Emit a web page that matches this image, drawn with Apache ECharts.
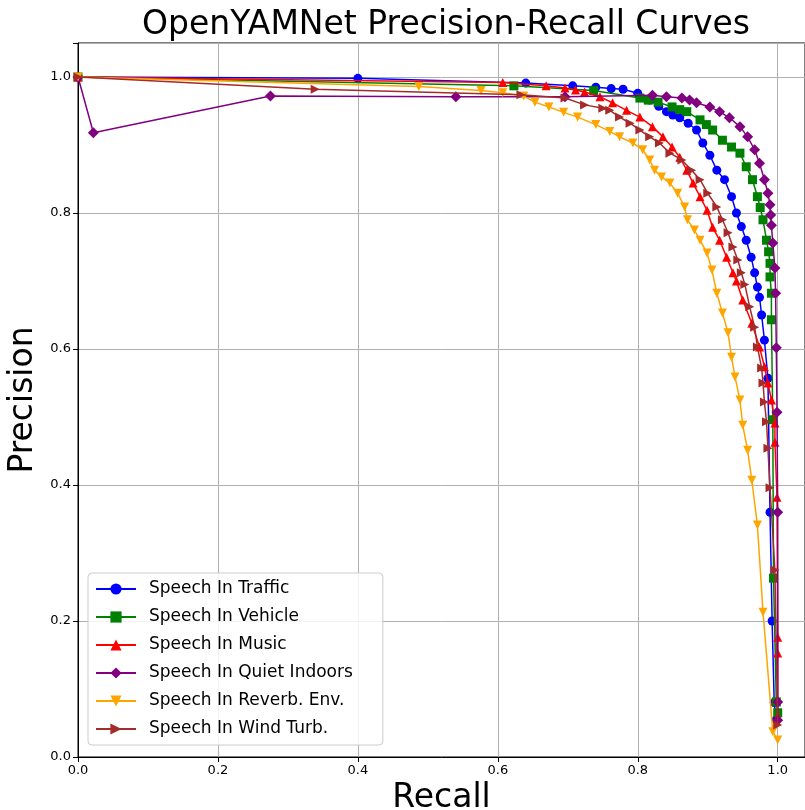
<!DOCTYPE html>
<html>
<head>
<meta charset="utf-8">
<script src="https://cdn.jsdelivr.net/npm/echarts@6/dist/echarts.min.js"></script>
<style>
  html, body { margin: 0; padding: 0; background: #fff; }
  #main { width: 805px; height: 810px; }
</style>
</head>
<body>
<div id="main"></div>
<script>
// 各条曲线的数据 (recall / precision)
const names = ["Speech In Traffic", "Speech In Vehicle", "Speech In Music",
  "Speech In Quiet Indoors", "Speech In Reverb. Env.", "Speech In Wind Turb."]
const colors = ["#0000ff", "#008000", "#ff0000", "#800080", "#ffa500", "#a52a2a"]

const trafficRecall = [0, 0.40, 0.64, 0.707, 0.74, 0.762, 0.779, 0.80, 0.817, 0.83, 0.841, 0.85, 0.86, 0.872, 0.884, 0.893, 0.903, 0.913, 0.924, 0.934, 0.941, 0.948, 0.955, 0.962, 0.967, 0.971, 0.974, 0.977, 0.981, 0.986, 0.989, 0.992, 0.995, 0.998]
const trafficPrecision = [1.0, 0.998, 0.991, 0.987, 0.985, 0.983, 0.982, 0.976, 0.966, 0.957, 0.949, 0.944, 0.94, 0.932, 0.922, 0.903, 0.885, 0.863, 0.849, 0.824, 0.80, 0.78, 0.76, 0.735, 0.712, 0.691, 0.676, 0.65, 0.613, 0.557, 0.36, 0.20, 0.08, 0.055]

const vehicleRecall = [0, 0.623, 0.737, 0.803, 0.815, 0.829, 0.849, 0.86, 0.87, 0.889, 0.898, 0.907, 0.921, 0.934, 0.946, 0.955, 0.964, 0.971, 0.975, 0.979, 0.984, 0.987, 0.989, 0.989, 0.991, 0.991, 0.993, 0.994, 0.998, 1.0]
const vehiclePrecision = [1.0, 0.987, 0.98, 0.969, 0.966, 0.963, 0.956, 0.952, 0.949, 0.937, 0.93, 0.922, 0.907, 0.897, 0.888, 0.868, 0.849, 0.824, 0.808, 0.79, 0.76, 0.743, 0.726, 0.706, 0.682, 0.643, 0.496, 0.263, 0.081, 0.065]

const musicRecall = [0, 0.607, 0.669, 0.696, 0.711, 0.724, 0.746, 0.764, 0.784, 0.803, 0.821, 0.836, 0.849, 0.86, 0.87, 0.879, 0.889, 0.899, 0.907, 0.917, 0.927, 0.936, 0.941, 0.95, 0.963, 0.974, 0.981, 0.986, 0.991, 0.996, 0.996, 0.999, 1.0, 1.0, 1.0]
const musicPrecision = [1.0, 0.992, 0.987, 0.984, 0.981, 0.978, 0.971, 0.962, 0.951, 0.941, 0.927, 0.912, 0.897, 0.882, 0.863, 0.844, 0.824, 0.804, 0.779, 0.76, 0.735, 0.712, 0.70, 0.672, 0.638, 0.603, 0.574, 0.55, 0.525, 0.491, 0.463, 0.382, 0.176, 0.153, 0.06]

const quietRecall = [0, 0.022, 0.275, 0.54, 0.696, 0.821, 0.841, 0.863, 0.874, 0.884, 0.903, 0.917, 0.931, 0.946, 0.957, 0.967, 0.974, 0.981, 0.986, 0.989, 0.99, 0.991, 0.993, 0.996, 0.997, 0.998, 0.999, 1.0, 1.0, 1.0]
const quietPrecision = [1.0, 0.918, 0.972, 0.971, 0.971, 0.973, 0.971, 0.969, 0.966, 0.962, 0.956, 0.949, 0.94, 0.927, 0.912, 0.893, 0.873, 0.849, 0.829, 0.812, 0.797, 0.782, 0.756, 0.719, 0.682, 0.602, 0.507, 0.36, 0.081, 0.054]

const reverbRecall = [0, 0.487, 0.576, 0.607, 0.637, 0.653, 0.673, 0.694, 0.714, 0.74, 0.76, 0.774, 0.793, 0.807, 0.817, 0.824, 0.834, 0.846, 0.857, 0.867, 0.871, 0.881, 0.889, 0.899, 0.906, 0.913, 0.921, 0.929, 0.934, 0.939, 0.946, 0.95, 0.957, 0.963, 0.971, 0.979, 0.993, 1.0]
const reverbPrecision = [1.0, 0.986, 0.98, 0.977, 0.972, 0.963, 0.956, 0.948, 0.941, 0.93, 0.92, 0.912, 0.903, 0.893, 0.878, 0.863, 0.853, 0.844, 0.829, 0.809, 0.79, 0.775, 0.76, 0.741, 0.716, 0.682, 0.653, 0.624, 0.588, 0.559, 0.525, 0.488, 0.451, 0.407, 0.341, 0.213, 0.037, 0.025]

const windRecall = [0, 0.339, 0.633, 0.696, 0.724, 0.75, 0.76, 0.774, 0.789, 0.803, 0.817, 0.831, 0.846, 0.863, 0.877, 0.889, 0.9, 0.913, 0.921, 0.929, 0.936, 0.943, 0.948, 0.953, 0.96, 0.967, 0.971, 0.977, 0.979, 0.981, 0.984, 0.986, 0.989, 0.996, 1.0]
const windPrecision = [1.0, 0.982, 0.974, 0.969, 0.959, 0.954, 0.951, 0.941, 0.932, 0.922, 0.912, 0.903, 0.888, 0.878, 0.863, 0.849, 0.829, 0.809, 0.79, 0.771, 0.75, 0.731, 0.712, 0.695, 0.662, 0.632, 0.603, 0.572, 0.55, 0.522, 0.493, 0.454, 0.396, 0.275, 0.047]

const recalls = [trafficRecall, vehicleRecall, musicRecall, quietRecall, reverbRecall, windRecall]
const precisions = [trafficPrecision, vehiclePrecision, musicPrecision, quietPrecision, reverbPrecision, windPrecision]
const symbols = ["circle", "rect", "triangle", "diamond", "triangle", "triangle"]
const rotates = [0, 0, 0, 0, 180, -90]

const font = "DejaVu Sans"
const tickFmt = v => Math.abs(v * 5 - Math.round(v * 5)) < 1e-6 ? v.toFixed(1) : ""

let series = names.map((name, i) => ({
  name: name,
  type: "line",
  data: recalls[i].map((r, k) => [r, precisions[i][k]]),
  symbol: symbols[i],
  symbolRotate: rotates[i],
  symbolSize: symbols[i] == "diamond" ? 11 : 9,
  showAllSymbol: true,
  color: colors[i],
  lineStyle: { width: 1.5, color: colors[i] },
  itemStyle: { color: colors[i] },
  animation: false,
  z: 2 + i
}))

let myChart = echarts.init(document.getElementById("main"))
let option = {
  animation: false,
  backgroundColor: "#fff",
  graphic: [{
    type: "text", x: 446, y: 25,
    style: { text: "OpenYAMNet Precision-Recall Curves", font: "33px 'DejaVu Sans'", fill: "#000", textAlign: "center", textVerticalAlign: "middle" }
  }],
  grid: { left: 78, right: 0, top: 43, bottom: 53, show: true, borderColor: "#000", borderWidth: 1, outerBoundsMode: "none", containLabel: false },
  legend: {
    orient: "vertical", left: 88, top: 573,
    padding: [6, 30, 6, 7],
    backgroundColor: "rgba(255,255,255,0.85)",
    borderColor: "#cccccc", borderWidth: 1, borderRadius: 4,
    itemWidth: 40, itemHeight: 14, itemGap: 8,
    textStyle: { fontFamily: font, fontSize: 17, color: "#000", lineHeight: 20, padding: [0, 0, 0, 8] },
    data: names
  },
  xAxis: {
    type: "value", min: 0, max: 1.039, interval: 0.2,
    name: "Recall", nameLocation: "middle", nameGap: 22,
    nameTextStyle: { fontFamily: font, fontSize: 33, color: "#000" },
    axisLine: { lineStyle: { color: "#000" } },
    axisTick: { show: true, length: 5, lineStyle: { color: "#000" } },
    axisLabel: { fontFamily: font, fontSize: 13, color: "#000", margin: 7, formatter: tickFmt },
    splitLine: { show: true, lineStyle: { color: "#b0b0b0", width: 1 } }
  },
  yAxis: {
    type: "value", min: 0, max: 1.05, interval: 0.2,
    name: "Precision", nameLocation: "middle", nameGap: 33,
    nameTextStyle: { fontFamily: font, fontSize: 33, color: "#000" },
    axisLine: { show: true, lineStyle: { color: "#000" } },
    axisTick: { show: true, length: 5, lineStyle: { color: "#000" } },
    axisLabel: { fontFamily: font, fontSize: 13, color: "#000", margin: 7, formatter: tickFmt },
    splitLine: { show: true, lineStyle: { color: "#b0b0b0", width: 1 } }
  },
  series: series
}
myChart.setOption(option)
</script>
</body>
</html>
